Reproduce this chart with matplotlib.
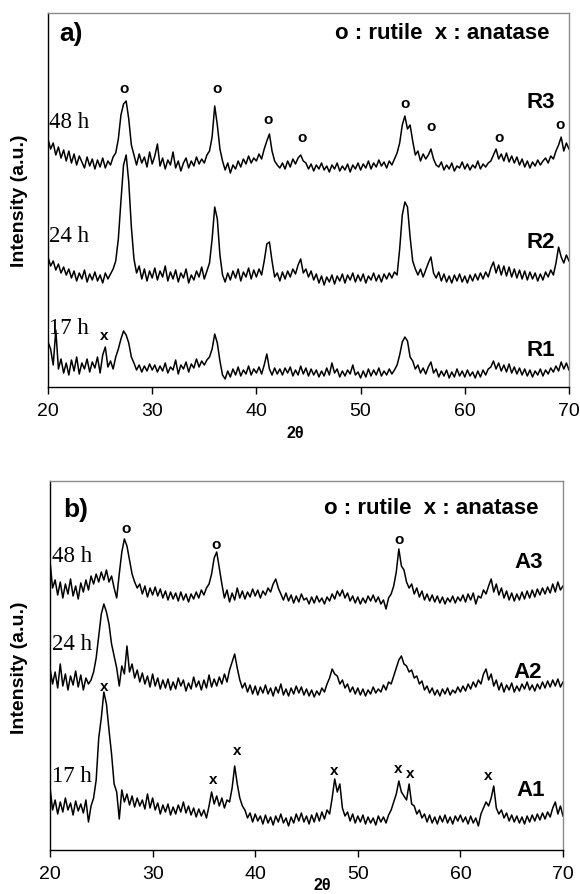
import numpy as np
import matplotlib
matplotlib.use("Agg")
import matplotlib.pyplot as plt

# 2-theta grid (deg) and intensities (a.u., stacked)
two_theta = np.arange(20.0, 70.001, 0.25)

r3 = [248, 238, 244, 232, 240, 229, 237, 226, 236, 224, 233, 222, 231, 225, 219, 230, 221, 228, 218, 227,
      220, 229, 219, 226, 222, 230, 234, 248, 272, 283, 286, 268, 242, 232, 222, 233, 224, 230, 220, 235,
      223, 231, 243, 221, 229, 218, 227, 222, 235, 219, 226, 216, 224, 229, 219, 226, 221, 230, 223, 228,
      224, 232, 236, 250, 281, 262, 238, 226, 217, 224, 214, 222, 218, 226, 220, 228, 223, 231, 224, 229,
      226, 233, 228, 238, 246, 253, 236, 226, 222, 219, 224, 218, 226, 220, 228, 223, 229, 232, 226, 224,
      218, 223, 216, 222, 218, 224, 217, 221, 215, 222, 218, 224, 216, 221, 217, 223, 215, 222, 218, 224,
      217, 223, 219, 226, 218, 224, 220, 227, 221, 225, 219, 226, 222, 228, 234, 244, 262, 271, 258, 262,
      246, 232, 236, 226, 233, 228, 232, 238, 228, 222, 220, 225, 217, 222, 218, 224, 216, 221, 219, 225,
      218, 223, 217, 222, 219, 226, 218, 223, 220, 224, 226, 232, 238, 228, 233, 226, 234, 225, 231, 224,
      230, 222, 228, 220, 226, 219, 225, 221, 227, 222, 226, 229, 224, 231, 228, 236, 242, 250, 236, 244,
      238]

r2 = [130, 121, 126, 117, 123, 114, 120, 112, 118, 109, 116, 106, 114, 108, 117, 105, 113, 107, 115, 106,
      112, 104, 114, 108, 113, 118, 126, 148, 186, 222, 232, 205, 160, 128, 114, 121, 108, 118, 106, 116,
      109, 119, 107, 116, 110, 121, 106, 115, 108, 117, 105, 114, 109, 118, 104, 112, 107, 116, 110, 120,
      108, 116, 124, 148, 180, 168, 132, 112, 105, 114, 107, 116, 109, 118, 106, 115, 110, 119, 108, 117,
      110, 118, 112, 126, 143, 145, 126, 110, 114, 106, 115, 108, 116, 110, 118, 113, 122, 128, 114, 118,
      110, 116, 107, 113, 104, 111, 102, 110, 105, 112, 103, 111, 106, 113, 104, 112, 107, 114, 105, 112,
      106, 113, 104, 111, 107, 114, 106, 112, 105, 113, 108, 114, 109, 115, 112, 138, 172, 185, 180, 150,
      126, 118, 112, 118, 110, 117, 124, 130, 114, 109, 115, 106, 113, 105, 111, 104, 112, 106, 113, 105,
      111, 104, 112, 106, 113, 107, 114, 108, 115, 110, 119, 125, 114, 122, 112, 121, 111, 120, 110, 118,
      109, 117, 108, 116, 107, 115, 108, 114, 106, 113, 107, 115, 110, 117, 112, 124, 140, 130, 124, 132,
      126]

r1 = [45, 38, 22, 57, 18, 28, 14, 24, 12, 27, 16, 30, 13, 24, 18, 28, 15, 25, 19, 30,
      14, 32, 40, 20, 26, 18, 30, 38, 48, 56, 52, 44, 30, 24, 17, 22, 15, 21, 16, 23,
      17, 22, 15, 21, 16, 24, 14, 20, 17, 27, 13, 22, 18, 25, 15, 23, 19, 28, 20, 26,
      22, 27, 30, 38, 53, 44, 26, 12, 8, 16, 10, 18, 12, 20, 11, 17, 13, 21, 12, 18,
      14, 20, 13, 22, 33, 18, 12, 19, 13, 18, 12, 19, 14, 20, 11, 17, 12, 21, 13, 19,
      11, 18, 12, 17, 10, 16, 11, 19, 12, 24, 14, 18, 10, 16, 11, 17, 13, 22, 12, 15,
      9, 16, 10, 18, 11, 17, 12, 19, 11, 16, 12, 18, 13, 17, 22, 32, 45, 50, 46, 30,
      26, 18, 22, 14, 19, 13, 20, 25, 14, 18, 10, 16, 11, 17, 9, 15, 10, 18, 11, 16,
      10, 17, 11, 15, 9, 16, 10, 17, 12, 18, 20, 26, 18, 24, 16, 22, 15, 23, 14, 20,
      13, 19, 12, 18, 11, 17, 10, 16, 12, 18, 11, 17, 13, 19, 15, 21, 16, 25, 18, 24,
      17]

a3 = [289, 262, 270, 255, 268, 252, 266, 256, 271, 254, 264, 251, 267, 258, 270, 260, 274, 266, 276, 268,
      278, 270, 280, 268, 274, 262, 252, 276, 298, 311, 304, 290, 276, 268, 262, 266, 256, 264, 253, 262,
      255, 263, 254, 261, 252, 259, 250, 258, 251, 257, 249, 258, 250, 256, 248, 256, 251, 258, 252, 260,
      255, 262, 266, 276, 292, 298, 282, 266, 252, 260, 248, 257, 250, 262, 252, 259, 251, 258, 253, 261,
      254, 260, 252, 259, 255, 262, 258, 266, 271, 262, 256, 250, 257, 249, 255, 247, 254, 248, 256, 250,
      252, 246, 253, 247, 254, 248, 252, 246, 253, 249, 256, 251, 259, 254, 260, 252, 257, 249, 254, 247,
      253, 246, 252, 247, 254, 249, 255, 248, 253, 246, 250, 241, 252, 256, 264, 278, 301, 284, 280, 268,
      262, 266, 256, 262, 253, 259, 250, 256, 249, 255, 248, 254, 247, 253, 246, 252, 248, 254, 247, 253,
      249, 255, 248, 256, 250, 257, 246, 254, 252, 260, 256, 264, 271, 258, 266, 255, 262, 252, 259, 250,
      257, 249, 256, 250, 258, 251, 259, 252, 260, 253, 261, 255, 262, 256, 263, 257, 266, 258, 268, 260,
      264]

a2 = [182, 166, 178, 162, 186, 164, 176, 160, 174, 165, 179, 163, 175, 160, 172, 166, 170, 178, 192, 214,
      236, 246, 238, 226, 206, 194, 182, 164, 184, 176, 204, 178, 186, 172, 180, 168, 177, 166, 174, 163,
      176, 164, 172, 161, 170, 162, 171, 160, 168, 161, 172, 164, 170, 159, 167, 161, 173, 163, 169, 160,
      170, 162, 175, 163, 171, 164, 173, 166, 176, 168, 180, 188, 196, 182, 170, 162, 167, 158, 165, 156,
      164, 155, 163, 157, 165, 156, 162, 154, 163, 157, 166, 155, 161, 154, 162, 156, 164, 157, 163, 155,
      161, 154, 160, 153, 159, 155, 162, 158, 166, 172, 181, 176, 174, 166, 170, 162, 166, 158, 163, 156,
      162, 155, 161, 154, 160, 156, 163, 157, 161, 158, 165, 160, 168, 166, 174, 182, 190, 194, 186, 184,
      178, 180, 172, 174, 166, 169, 160, 164, 157, 162, 155, 160, 154, 161, 156, 162, 155, 160, 157, 163,
      158, 164, 159, 166, 161, 168, 163, 170, 166, 176, 181, 170, 176, 164, 170, 160, 167, 158, 165, 160,
      167, 158, 164, 159, 166, 161, 168, 160, 165, 159, 166, 161, 168, 162, 169, 163, 170, 164, 171, 163,
      168]

a1 = [63, 40, 50, 36, 48, 38, 52, 40, 47, 35, 49, 39, 46, 37, 50, 28, 44, 52, 70, 112,
      132, 158, 146, 120, 96, 66, 58, 31, 60, 48, 56, 45, 54, 43, 52, 44, 50, 41, 56, 42,
      52, 40, 47, 36, 45, 38, 46, 35, 43, 36, 45, 38, 48, 37, 44, 35, 42, 33, 41, 34,
      40, 32, 44, 58, 46, 54, 44, 52, 42, 50, 48, 62, 84, 66, 52, 44, 40, 32, 37, 28,
      36, 29, 34, 26, 35, 27, 33, 25, 34, 28, 36, 27, 32, 24, 33, 27, 36, 29, 37, 28,
      34, 26, 35, 28, 37, 29, 38, 31, 40, 36, 52, 71, 58, 66, 42, 34, 38, 29, 36, 27,
      34, 28, 35, 26, 33, 27, 32, 25, 34, 28, 33, 27, 35, 40, 48, 56, 69, 58, 54, 50,
      66, 46, 44, 36, 40, 32, 36, 28, 35, 27, 33, 26, 34, 28, 35, 27, 33, 26, 34, 29,
      35, 28, 33, 26, 34, 27, 32, 24, 36, 42, 48, 44, 52, 64, 42, 36, 40, 32, 37, 29,
      35, 28, 34, 27, 33, 26, 34, 28, 35, 29, 36, 30, 37, 31, 38, 33, 42, 48, 36, 44,
      34]

# peak markers (2theta, intensity)
rutile_a = [(27.3, 295), (36.2, 295), (41.1, 264), (44.4, 246), (54.3, 280),
            (56.8, 257), (63.3, 246), (69.1, 259)]
anatase_a = [(25.4, 48)]
rutile_b = [(27.4, 318), (36.2, 302), (54.0, 307)]
anatase_b = [(25.3, 160), (35.9, 67), (38.2, 96), (47.7, 76), (53.9, 78),
             (55.1, 73), (62.7, 71)]

times = ["48 h", "24 h", "17 h"]

fig = plt.figure(figsize=(5.8, 8.95), dpi=100)
ax_a = fig.add_axes([48 / 580, 1 - 388 / 895, 521 / 580, 374 / 895])
ax_b = fig.add_axes([50 / 580, 1 - 851 / 895, 513 / 580, 369 / 895])

sans = "Liberation Sans"
serif = "Liberation Serif"


def style_axes(ax, ymax):
    ax.set_xlim(20, 70)
    ax.set_ylim(0, ymax)
    ax.set_yticks([])
    ax.set_xticks([20, 30, 40, 50, 60, 70])
    ax.tick_params(axis="x", direction="out", length=5, width=1,
                   labelsize=14, pad=6)
    for lab in ax.get_xticklabels():
        lab.set_fontfamily(sans)
    for side in ["top", "right"]:
        ax.spines[side].set_color("#8c8c8c")
    for side in ["left", "bottom"]:
        ax.spines[side].set_color("black")
    for sp in ax.spines.values():
        sp.set_linewidth(1.0)


# ---- panel a ----
for y in [r3, r2, r1]:
    ax_a.plot(two_theta, y, color="black", lw=1.1)
style_axes(ax_a, 374)
ax_a.text(0.021, 0.947, "a)", transform=ax_a.transAxes, fontsize=19,
          fontweight="bold", family=sans, ha="left", va="center")
ax_a.text(0.962, 0.947, "o : rutile  x : anatase", transform=ax_a.transAxes,
          fontsize=16, fontweight="bold", family=sans, ha="right", va="center")
for lab, yy in zip(["R3", "R2", "R1"], [285, 146, 38]):
    ax_a.text(68.66, yy, lab, fontsize=16, fontweight="bold", family=sans,
              ha="right", va="center")
for t, yy in zip(times, [265, 151, 60]):
    ax_a.text(20.05, yy, t, fontsize=16.5, family=serif, ha="left", va="center")
for x, y in rutile_a:
    ax_a.text(x, y, "o", fontsize=11, fontweight="bold", family=sans,
              ha="center", va="baseline")
for x, y in anatase_a:
    ax_a.text(x, y, "x", fontsize=11, fontweight="bold", family=sans,
              ha="center", va="baseline")

# ---- panel b ----
for y in [a3, a2, a1]:
    ax_b.plot(two_theta, y, color="black", lw=1.1)
style_axes(ax_b, 369)
ax_b.text(0.025, 0.924, "b)", transform=ax_b.transAxes, fontsize=19,
          fontweight="bold", family=sans, ha="left", va="center")
ax_b.text(0.953, 0.927, "o : rutile  x : anatase", transform=ax_b.transAxes,
          fontsize=16, fontweight="bold", family=sans, ha="right", va="center")
for lab, xx, yy in zip(["A3", "A2", "A1"], [68.05, 67.95, 68.25], [289, 179, 61]):
    ax_b.text(xx, yy, lab, fontsize=16, fontweight="bold", family=sans,
              ha="right", va="center")
for t, yy in zip(times, [294, 206, 74]):
    ax_b.text(20.15, yy, t, fontsize=16.5, family=serif, ha="left", va="center")
for x, y in rutile_b:
    ax_b.text(x, y, "o", fontsize=11, fontweight="bold", family=sans,
              ha="center", va="baseline")
for x, y in anatase_b:
    ax_b.text(x, y, "x", fontsize=11, fontweight="bold", family=sans,
              ha="center", va="baseline")

# axis labels
fig.text(20 / 580, 1 - 201 / 895, "Intensity (a.u.)", rotation=90, fontsize=14,
         fontweight="bold", family=sans, ha="center", va="center")
fig.text(20 / 580, 1 - 668 / 895, "Intensity (a.u.)", rotation=90, fontsize=14,
         fontweight="bold", family=sans, ha="center", va="center")
fig.text(295 / 580, 1 - 434 / 895, "2\u03b8", fontsize=11.5, fontweight="bold",
         family=sans, ha="center", va="center")
fig.text(322 / 580, 1 - 886 / 895, "2\u03b8", fontsize=11.5, fontweight="bold",
         family=sans, ha="center", va="center")

fig.savefig("out.png", dpi=100)
